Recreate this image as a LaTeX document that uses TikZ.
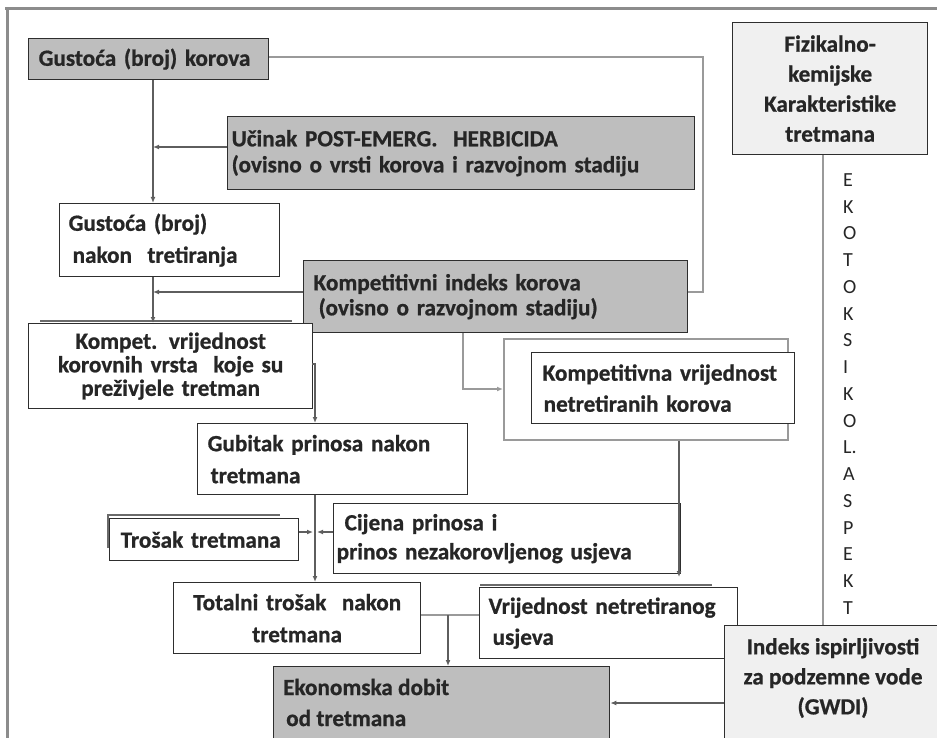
\documentclass[tikz,border=0pt]{standalone}
\usepackage{fontspec}
\setmainfont{Carlito}[BoldFeatures={FakeBold=0.8}]
\usetikzlibrary{arrows.meta}
\definecolor{gdark}{HTML}{BEBEBE}
\definecolor{glight}{HTML}{F0F0F0}
\definecolor{edgec}{HTML}{2E2E2E}
\definecolor{conn}{HTML}{5E5E5E}
\definecolor{lconn}{HTML}{9A9A9A}
\definecolor{framec}{HTML}{8C8C8C}
\definecolor{shadowc}{HTML}{6A6A6A}
\definecolor{textc}{HTML}{262626}
\newcommand{\fz}[1]{\bfseries\fontsize{23.2}{#1}\selectfont}
\newcommand{\ml}[1]{\mbox{#1}}
\begin{document}
\begin{tikzpicture}[x=1pt,y=-1pt,
  box/.style={draw=edgec, line width=1.3pt, anchor=north west, inner ysep=0pt, fill=white, text=textc},
  lbox/.style={box, align=left},
  cbox/.style={box, align=center},
  txt/.style={inner sep=0pt, text=textc},
  con/.style={draw=conn, line width=1.4pt},
  lcon/.style={draw=lconn, line width=1.6pt},
  arr/.style={con, -{Latex[length=6pt,width=5pt]}},
  shad/.style={draw=shadowc, line width=2pt},
  frameline/.style={draw=framec, line width=3pt},
  letter/.style={inner sep=0pt, text=textc, font=\fontsize{20}{24}\selectfont}
]
\useasboundingbox (0,0) rectangle (937,738);
\clip (0,0) rectangle (937,738);

% frame
\draw[frameline] (5,9) -- (937,9);
\draw[frameline] (7,9) -- (7,738);

% shadow edges
\draw[shad] (40,321) -- (292,321);
\draw[shad] (108,548) -- (108,515) -- (280,515);
\draw[shad] (480,585) -- (712,585);

% boxes
\node[lbox, fill=gdark, text width=220pt, inner xsep=10pt, minimum height=41pt, font=\fz{26}] (g1) at (28,38) {\ml{Gustoća (broj) korova}};
\node[lbox, fill=gdark, text width=459pt, inner xsep=4pt, minimum height=73pt, font=\fz{26}] (uc) at (227,116) {\ml{Učinak POST-EMERG.\ \ HERBICIDA}\\\ml{(ovisno o vrsti korova i razvojnom stadiju}};
\node[lbox, text width=202pt, inner xsep=9pt, minimum height=73pt, font=\fz{32}] (g2) at (59,203) {\ml{Gustoća (broj)}\\\ml{\hspace*{4pt}nakon\ \ tretiranja}};
\node[lbox, fill=gdark, text width=364pt, inner xsep=10pt, minimum height=72pt, font=\fz{25}] (kind) at (303,260) {\ml{Kompetitivni indeks korova}\\\ml{\hspace*{5pt}(ovisno o razvojnom stadiju)}};
\node[cbox, text width=276pt, inner xsep=4pt, minimum height=85pt, font=\fz{23.5}] (kv) at (28,323) {\ml{Kompet. vrijednost}\\\ml{korovnih vrsta\ \ koje su}\\\ml{preživjele tretman}};
\node[box, draw=lconn, line width=1.6pt, minimum width=284pt, minimum height=101pt, inner sep=0pt] (outer) at (503,338) {};
\node[lbox, text width=241pt, inner xsep=11pt, minimum height=71pt, font=\fz{31}] (kvn) at (531,352) {\ml{Kompetitivna vrijednost}\\\ml{\hspace*{1pt}netretiranih korova}};
\node[lbox, text width=250pt, inner xsep=10pt, minimum height=71pt, font=\fz{32}] (gub) at (197,423) {\ml{Gubitak prinosa\ nakon}\\\ml{\hspace*{3pt}tretmana}};
\node[lbox, text width=167pt, inner xsep=11pt, minimum height=42pt, font=\fz{26}] (tros) at (109,518) {\ml{Trošak tretmana}};
\node[lbox, text width=341pt, inner xsep=3pt, minimum height=70pt, font=\fz{29}] (cij) at (333,503) {\ml{\hspace*{8pt}Cijena prinosa i}\\\ml{prinos nezakorovljenog usjeva}};
\node[cbox, text width=239pt, inner xsep=4pt, minimum height=71pt, font=\fz{32}] (tot) at (173,582) {\ml{Totalni trošak\ \ nakon}\\\ml{tretmana}};
\node[lbox, text width=240pt, inner xsep=9pt, minimum height=71pt, font=\fz{31}] (vr) at (479,587) {\ml{Vrijednost netretiranog}\\\ml{\hspace*{4pt}usjeva}};
\node[box, fill=gdark, minimum width=336pt, minimum height=90pt, inner sep=0pt] (ek) at (273,666) {};
\node[txt, anchor=west, align=left, font=\fz{31}] (ekt) at (283,702.5) {Ekonomska dobit\\\hspace*{3pt}od tretmana};
\node[box, fill=glight, minimum width=230pt, minimum height=130pt, inner sep=0pt] (ind) at (724,625) {};
\node[txt, align=center, font=\fz{30}] (indt) at (833,678) {Indeks ispirljivosti\\za podzemne vode\\(GWDI)};
\node[cbox, fill=glight, text width=187pt, inner xsep=4pt, minimum height=132pt, font=\fz{30}] (fiz) at (732,22) {Fizikalno-\\kemijske\\\ml{Karakteristike}\\tretmana};

% vertical letters
\foreach \l [count=\i] in {E,K,O,T,O,K,S,I,K,O,L.,A,S,P,E,K,T}
  \node[letter, anchor=west] (L\i) at (843, {180+(\i-1)*26.75}) {\l};

% junction coordinates
\coordinate (c1) at (153,147);
\coordinate (c2) at (153,292);
\coordinate (c3) at (703,57);
\coordinate (c4) at (463,389);
\coordinate (c5) at (315,364);
\coordinate (c6) at (315,532);
\coordinate (c7) at (679,577);
\coordinate (c8) at (448,615);
\coordinate (c9) at (0,703);
\coordinate (c10) at (823,0);

% connectors
\draw[lcon] (g1.east |- c3) -- (c3) |- (kind.east |- c2);
\draw[arr] (g1.south -| c1) -- (g2.north -| c1);
\draw[arr] (uc.west |- c1) -- (c1);
\draw[arr] (g2.south -| c1) -- (kv.north -| c1);
\draw[arr] (kind.west |- c2) -- (c2);
\draw[arr, draw=lconn] (kind.south -| c4) |- (outer.west |- c4);
\draw[arr] ([xshift=-1pt]kv.east |- c5) -- (c5) -- (gub.north -| c5);
\draw[arr] (gub.south -| c5) -- (tot.north -| c5);
\draw[arr] (tros.east |- c6) -- ([xshift=-2pt]c6);
\draw[arr] (cij.west |- c6) -- ([xshift=2pt]c6);
\draw[arr] (outer.south -| c7) -- (c7);
\draw[lcon] (tot.east |- c8) -- (vr.west |- c8);
\draw[arr] (c8) -- (ek.north -| c8);
\draw[arr] (ind.west |- c9) -- (ek.east |- c9);
\draw[lcon] (fiz.south -| c10) -- (ind.north -| c10);
\end{tikzpicture}
\end{document}
